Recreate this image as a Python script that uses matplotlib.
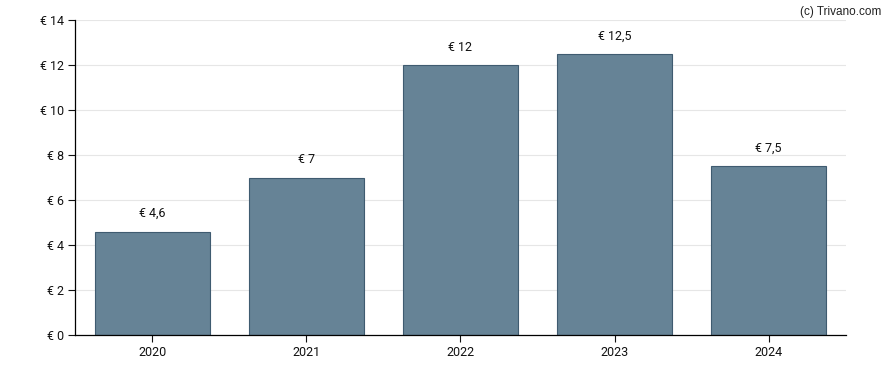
import matplotlib.pyplot as plt

years = ['2020', '2021', '2022', '2023', '2024']
values = [4.6, 7, 12, 12.5, 7.5]
labels = ['€ 4,6', '€ 7', '€ 12', '€ 12,5', '€ 7,5']
yticks = [0, 2, 4, 6, 8, 10, 12, 14]

plt.rcParams['font.family'] = ['Roboto', 'DejaVu Sans']

fig = plt.figure(figsize=(8.88, 3.70), dpi=100)
ax = fig.add_axes([0.0845, 0.0946, 0.868, 0.8513])

x = list(range(len(years)))
ax.bar(x, values, width=0.745, color='#668396', edgecolor='#3f5b70', linewidth=0.8, zorder=2)

# waardes boven de staven
for i, v in enumerate(values):
    ax.text(i, v + 0.5, labels[i], ha='center', va='bottom', fontsize=9, color='#111111')

ax.set_xlim(-0.5, 4.5)
ax.set_ylim(0, 14)
ax.set_xticks(x)
ax.set_xticklabels(years)
ax.set_yticks(yticks)
ax.set_yticklabels(['€ %d' % t for t in yticks])
ax.tick_params(axis='both', labelsize=9, length=5, width=0.8, colors='#111111', pad=3)
ax.grid(axis='y', color='#e6e6e6', linewidth=0.8, zorder=0)
ax.set_axisbelow(True)

for s in ['top', 'right']:
    ax.spines[s].set_visible(False)
for s in ['left', 'bottom']:
    ax.spines[s].set_color('black')
    ax.spines[s].set_linewidth(0.9)

fig.text(0.992, 0.985, '(c) Trivano.com', ha='right', va='top', fontsize=8.5,
         family=['Liberation Sans', 'DejaVu Sans'], color='#222222')

plt.savefig('out.png', dpi=100)
